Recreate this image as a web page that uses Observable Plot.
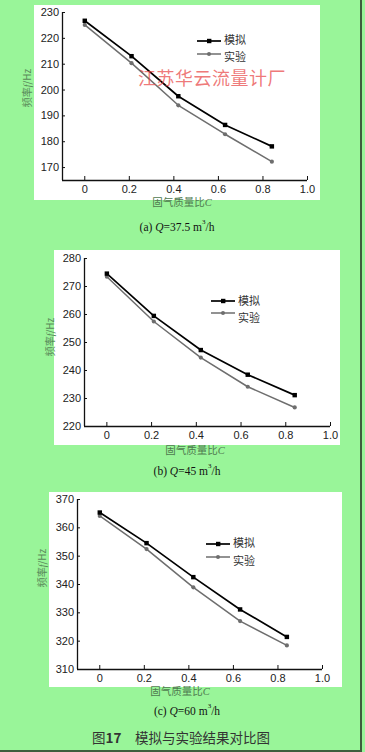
<!DOCTYPE html>
<html><head><meta charset="utf-8">
<script src="https://cdn.jsdelivr.net/npm/d3@7"></script>
<script src="https://cdn.jsdelivr.net/npm/@observablehq/plot@0.6"></script>
<style>
html,body{margin:0;padding:0;}
body{background:#99f599;width:365px;height:752px;position:relative;overflow:hidden;font-family:"Liberation Sans",Arial,sans-serif;}
.abs{position:absolute;}
.ctr{position:absolute;transform:translate(-50%,-50%);white-space:nowrap;line-height:1;}
.white{position:absolute;background:#fff;}
.ylab{position:absolute;transform:translate(-50%,-50%) rotate(-90deg);white-space:nowrap;line-height:1;font-family:"Noto Sans CJK SC",sans-serif;font-size:10px;color:#5a8a5a;}
.xlab{font-family:"Noto Sans CJK SC",sans-serif;font-size:10.5px;color:#4f7a4f;}
.xlab i,.ylab i{font-family:"Liberation Serif",serif;}
.cap{font-family:"Liberation Serif",serif;font-size:11.5px;color:#111;}
.cap sup{font-size:7px;vertical-align:7px;line-height:0;}
</style></head>
<body>
<script>
// ---- data ----
const massRatio = [0, 0.21, 0.42, 0.63, 0.84];
const seriesNames = ["模拟", "实验"];
const simA = [226.8, 213.1, 197.6, 186.5, 178.2];
const expA = [225.2, 210.4, 194.1, 182.9, 172.3];
const simB = [274.6, 259.5, 247.3, 238.5, 231.2];
const expB = [273.5, 257.5, 244.6, 234.2, 226.8];
const simC = [365.4, 354.6, 342.6, 331.2, 321.5];
const expC = [364.2, 352.5, 339.0, 327.1, 318.5];
const xTicks = [0, 0.2, 0.4, 0.6, 0.8, 1.0];
const xTickLabels = ["0", "0.2", "0.4", "0.6", "0.8", "1.0"];
const xDomain = [-0.1, 1.0];
const yTicksA = [170, 180, 190, 200, 210, 220, 230];
const yTicksB = [220, 230, 240, 250, 260, 270, 280];
const yTicksC = [310, 320, 330, 340, 350, 360, 370];
const yDomainA = [165, 230];
const yDomainB = [220, 280];
const yDomainC = [310, 370];
const yLabelText = "频率<i>f</i>/Hz";
const xLabelText = "固气质量比<i>C</i>";
const captions = ["(a) <i>Q</i>=37.5 m<sup>3</sup>/h", "(b) <i>Q</i>=45 m<sup>3</sup>/h", "(c) <i>Q</i>=60 m<sup>3</sup>/h"];
const watermark = "江苏华云流量计厂";
const figTitle = "图<b>17</b>　模拟与实验结果对比图";

// ---- layout ----
const panels = [
  {sim: simA, exp: expA, yTicks: yTicksA, yDomain: yDomainA, top: 0, w: 330, h: 200, ml: 62, mr: 23, mt: 12, mb: 20,
   white: [34, 5, 286, 195], ylab: [27, 88], xlab: [182, 203], cap: [177, 228], leg: [197, 41, 54, 38.5, 55.5], wm: [212, 77]},
  {sim: simB, exp: expB, yTicks: yTicksB, yDomain: yDomainB, top: 240, w: 350, h: 206, ml: 84, mr: 20, mt: 18, mb: 20,
   white: [54, 250, 286, 195], ylab: [50, 337], xlab: [195, 451], cap: [187, 472], leg: [211, 301, 313, 300, 317]},
  {sim: simC, exp: expC, yTicks: yTicksC, yDomain: yDomainC, top: 480, w: 342, h: 209, ml: 77, mr: 20, mt: 19, mb: 20,
   white: [49, 492, 293, 195], ylab: [42, 568], xlab: [180, 692], cap: [187, 712], leg: [206, 544, 557, 542, 560]}
];

function el(tag, cls, html, style) {
  const e = document.createElement(tag);
  if (cls) e.className = cls;
  if (html != null) e.innerHTML = html;
  Object.assign(e.style, style || {});
  document.body.appendChild(e);
  return e;
}

panels.forEach((p, k) => {
  const [wx, wy, ww, wh] = p.white;
  el("div", "white", null, {left: wx + "px", top: wy + "px", width: ww + "px", height: wh + "px"});

  const simRows = massRatio.map((c, i) => ({C: c, f: p.sim[i], s: seriesNames[0]}));
  const expRows = massRatio.map((c, i) => ({C: c, f: p.exp[i], s: seriesNames[1]}));

  const chart = Plot.plot({
    width: p.w, height: p.h,
    marginLeft: p.ml, marginRight: p.mr, marginTop: p.mt, marginBottom: p.mb,
    style: {background: "transparent", fontFamily: "'Liberation Sans', Arial, sans-serif", fontSize: "11px", color: "#222", overflow: "visible"},
    x: {domain: xDomain},
    y: {domain: p.yDomain},
    marks: [
      Plot.ruleX([xDomain[0]], {stroke: "#111", strokeWidth: 1.3}),
      Plot.ruleY([p.yDomain[0]], {stroke: "#111", strokeWidth: 1.3}),
      Plot.axisX(xTicks, {tickSize: -4, tickPadding: 9, label: null, stroke: "#111", fill: "#222",
        tickFormat: d => xTickLabels[xTicks.indexOf(d)]}),
      Plot.axisY(p.yTicks, {tickSize: -3, tickPadding: 6.5, label: null, stroke: "#111", fill: "#222"}),
      Plot.line(expRows, {x: "C", y: "f", stroke: "#6e6e6e", strokeWidth: 1.5}),
      Plot.line(simRows, {x: "C", y: "f", stroke: "#000", strokeWidth: 1.7}),
      Plot.dot(expRows, {x: "C", y: "f", r: 2.1, fill: "#6e6e6e"}),
      Plot.dot(simRows, {x: "C", y: "f", symbol: "square", r: 2.5, fill: "#000"})
    ]
  });
  chart.style.position = "absolute";
  chart.style.left = "0px";
  chart.style.top = p.top + "px";
  document.body.appendChild(chart);

  // axis titles and caption
  el("div", "ylab", yLabelText, {left: p.ylab[0] + "px", top: p.ylab[1] + "px"});
  el("div", "ctr xlab", xLabelText, {left: p.xlab[0] + "px", top: p.xlab[1] + "px"});
  el("div", "ctr cap", captions[k], {left: p.cap[0] + "px", top: p.cap[1] + "px"});

  // legend
  const [lx, ly1, ly2, ty1, ty2] = p.leg;
  const ns = "http://www.w3.org/2000/svg";
  const svg = document.createElementNS(ns, "svg");
  const base = ly1 - 12;
  svg.setAttribute("width", 60); svg.setAttribute("height", 36);
  svg.style.position = "absolute"; svg.style.left = lx + "px"; svg.style.top = base + "px";
  const rows = [[ly1 - base, ty1 - base, "#000", "square"], [ly2 - base, ty2 - base, "#6e6e6e", "circle"]];
  rows.forEach(([y, ty, col, sym], j) => {
    const ln = document.createElementNS(ns, "line");
    ln.setAttribute("x1", 0); ln.setAttribute("x2", 24); ln.setAttribute("y1", y); ln.setAttribute("y2", y);
    ln.setAttribute("stroke", col); ln.setAttribute("stroke-width", j === 0 ? 1.7 : 1.5);
    svg.appendChild(ln);
    let m;
    if (sym === "square") { m = document.createElementNS(ns, "rect"); m.setAttribute("x", 10); m.setAttribute("y", y - 2.2); m.setAttribute("width", 4.4); m.setAttribute("height", 4.4); }
    else { m = document.createElementNS(ns, "circle"); m.setAttribute("cx", 12); m.setAttribute("cy", y); m.setAttribute("r", 2); }
    m.setAttribute("fill", col);
    svg.appendChild(m);
    const t = document.createElementNS(ns, "text");
    t.setAttribute("x", 27); t.setAttribute("y", ty); t.setAttribute("dominant-baseline", "central");
    t.setAttribute("font-family", "Noto Sans CJK SC, sans-serif"); t.setAttribute("font-size", 11); t.setAttribute("fill", "#333");
    t.textContent = seriesNames[j];
    svg.appendChild(t);
  });
  document.body.appendChild(svg);

  if (p.wm) {
    el("div", "ctr", watermark, {left: p.wm[0] + "px", top: p.wm[1] + "px", fontFamily: "'Noto Sans CJK SC', sans-serif",
      fontSize: "18px", color: "rgba(232,70,70,0.72)", letterSpacing: "0.5px"});
  }
});

el("div", "ctr", figTitle, {left: "181px", top: "738px", fontFamily: "'Noto Sans CJK SC', sans-serif", fontSize: "13.5px", color: "#333"});
// page border lines
el("div", "abs", null, {left: "360px", top: "0px", width: "1.5px", height: "752px", background: "#3d5e3d"});
el("div", "abs", null, {left: "0px", top: "750px", width: "361.5px", height: "1.5px", background: "#3d5e3d"});
</script>
</body></html>
